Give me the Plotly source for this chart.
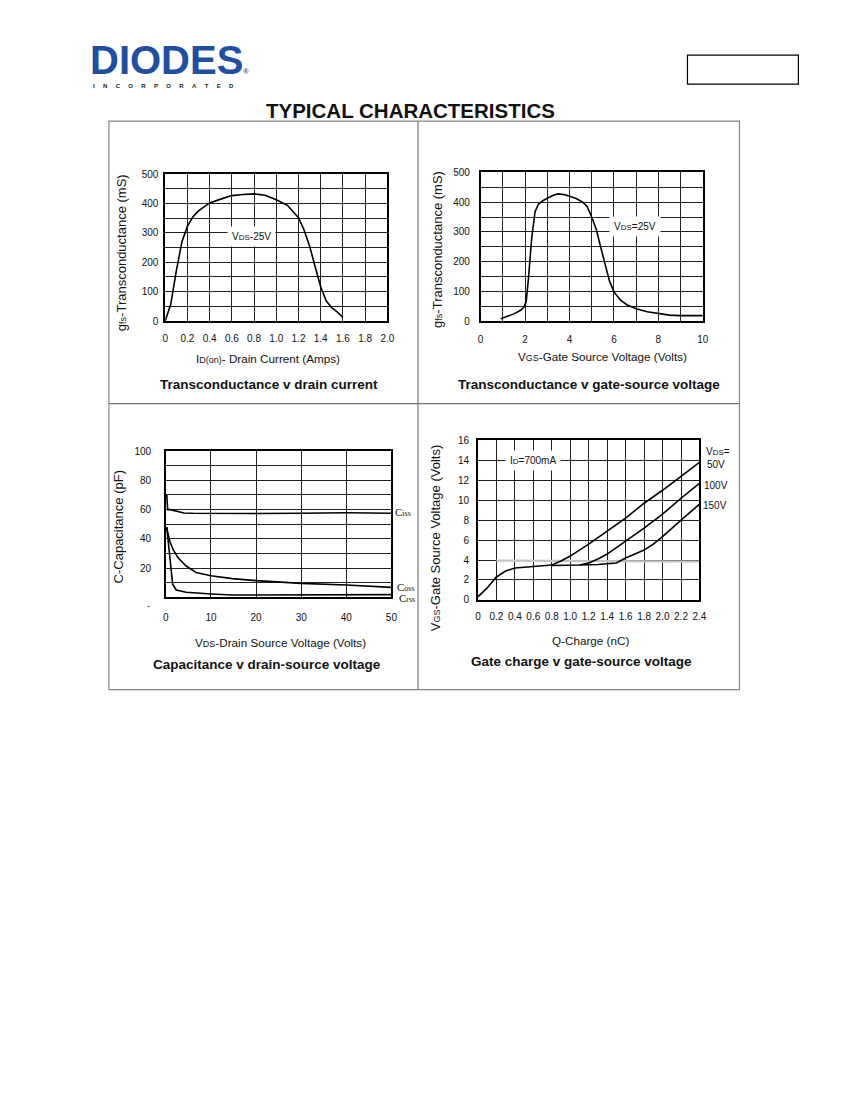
import plotly.graph_objects as go

W, H = 850, 1100

# transconductance v drain current
id_on = [0, 0.05, 0.1, 0.125, 0.15, 0.2, 0.25, 0.3, 0.35, 0.4, 0.5, 0.6, 0.7, 0.8,
         0.9, 1.0, 1.1, 1.2, 1.25, 1.3, 1.35, 1.4, 1.45, 1.5, 1.55, 1.6]
gfs_id = [0, 57, 170, 218, 269, 322, 355, 375, 390, 402, 415, 427, 431, 433,
          428, 413, 394, 352, 310, 255, 185, 116, 68, 45, 30, 12]

# transconductance v gate-source voltage
vgs = [0.9, 1.2, 1.5, 1.8, 1.95, 2.05, 2.15, 2.3, 2.45, 2.6, 2.8, 3.0, 3.3, 3.5, 3.8,
       4.0, 4.3, 4.6, 4.8, 5.0, 5.2, 5.4, 5.6, 5.8, 6.0, 6.3, 6.6, 7.0, 7.5, 8.0,
       8.5, 9.0, 9.5, 10.0]
gfs_vgs = [8, 16, 24, 36, 47, 65, 140, 280, 368, 393, 405, 413, 424, 428, 425,
           420, 412, 400, 385, 350, 310, 250, 190, 135, 98, 70, 54, 41, 31, 25,
           20, 18, 18, 18]

# capacitance v drain-source voltage
vds_ciss = [0.2, 0.4, 1, 2, 3, 4, 6, 10, 20, 30, 40, 50]
ciss = [70, 60, 60, 59.2, 58.3, 57.7, 57.5, 57.3, 57.3, 57.5, 57.8, 57.5]
vds_coss = [0.15, 0.9, 1.6, 2.7, 4.5, 6.7, 10, 14.7, 20, 25, 30, 40, 50]
coss = [48, 38, 32.7, 27, 21.4, 17, 14.7, 12.8, 11.4, 10.3, 9.5, 8.4, 6.8]
vds_crss = [0.2, 0.5, 1, 1.5, 2.3, 4.5, 10, 14.7, 20, 30, 40, 50]
crss = [48, 38, 22.6, 9, 5, 3.4, 2.3, 1.6, 1.6, 1.8, 2.0, 1.8]

# gate charge
qg_50 = [0, 0.1, 0.2, 0.3, 0.4, 0.6, 0.8, 0.9, 1.0, 1.2, 1.4, 1.6, 1.8, 2.0, 2.2, 2.4]
vg_50 = [0.3, 1.2, 2.3, 2.9, 3.2, 3.35, 3.5, 3.9, 4.4, 5.6, 6.9, 8.2, 9.7, 11.0, 12.4, 13.8]
qg_100 = [0.8, 1.0, 1.1, 1.2, 1.3, 1.4, 1.6, 1.8, 2.0, 2.2, 2.4]
vg_100 = [3.45, 3.45, 3.5, 3.7, 4.1, 4.6, 5.9, 7.2, 8.6, 10.2, 11.7]
qg_150 = [1.1, 1.3, 1.5, 1.6, 1.7, 1.8, 1.9, 2.0, 2.2, 2.4]
vg_150 = [3.5, 3.55, 3.7, 4.2, 4.6, 5.0, 5.6, 6.35, 8.0, 9.6]
qg_plateau = [0.2, 2.4]
vg_plateau = [3.95, 3.85]

FONT = "Liberation Sans, Arial, sans-serif"

# the photographed page comes out slightly shrunk and shifted; undo that here
SX, OX = 0.989, 2.0
SY, OY = 0.989, 6.0


def px(x):
    return (x - OX) / SX / W


def py(y):
    return 1 - (y - OY) / SY / H


def sm(t, size=8):
    return "<span style='font-size:%dpx'>%s</span>" % (size, t)


def xaxis(x0, x1, rng, tickvals, ticktext, minor, standoff):
    return dict(domain=[px(x0), px(x1)], range=rng, tickvals=tickvals, ticktext=ticktext,
                showgrid=True, gridcolor="#222", gridwidth=1,
                minor=dict(dtick=minor, tick0=0, showgrid=True, gridcolor="#222", gridwidth=1),
                showline=True, mirror=True, linecolor="black", linewidth=1.5,
                zeroline=False, ticks="", ticklabelstandoff=standoff,
                tickfont=dict(family=FONT, size=10, color="#111"), fixedrange=True)


def yaxis(y0, y1, rng, tickvals, minor, standoff):
    return dict(domain=[py(y1), py(y0)], range=rng, tickvals=tickvals,
                showgrid=True, gridcolor="#222", gridwidth=1,
                minor=dict(dtick=minor, tick0=0, showgrid=True, gridcolor="#222", gridwidth=1),
                showline=True, mirror=True, linecolor="black", linewidth=1.5,
                zeroline=False, ticks="", ticklabelstandoff=standoff,
                tickfont=dict(family=FONT, size=10, color="#111"), fixedrange=True)


fig = go.Figure()
line = dict(color="black", width=1.6)

fig.add_trace(go.Scatter(x=id_on, y=gfs_id, mode="lines", line=line, xaxis="x", yaxis="y"))
fig.add_trace(go.Scatter(x=vgs, y=gfs_vgs, mode="lines", line=line, xaxis="x2", yaxis="y2"))
fig.add_trace(go.Scatter(x=vds_ciss, y=ciss, mode="lines", line=line, xaxis="x3", yaxis="y3"))
fig.add_trace(go.Scatter(x=vds_coss, y=coss, mode="lines", line=line, xaxis="x3", yaxis="y3"))
fig.add_trace(go.Scatter(x=vds_crss, y=crss, mode="lines", line=line, xaxis="x3", yaxis="y3"))
fig.add_trace(go.Scatter(x=qg_plateau, y=vg_plateau, mode="lines",
                         line=dict(color="#c4c4c4", width=2.2), xaxis="x4", yaxis="y4"))
fig.add_trace(go.Scatter(x=qg_50, y=vg_50, mode="lines", line=line, xaxis="x4", yaxis="y4"))
fig.add_trace(go.Scatter(x=qg_100, y=vg_100, mode="lines", line=line, xaxis="x4", yaxis="y4"))
fig.add_trace(go.Scatter(x=qg_150, y=vg_150, mode="lines", line=line, xaxis="x4", yaxis="y4"))

t1 = [round(0.2 * i, 1) for i in range(11)]
t4 = [round(0.2 * i, 1) for i in range(13)]
lab = lambda v: "0" if v == 0 else "%.1f" % v

fig.update_layout(
    width=W, height=H, margin=dict(l=0, r=0, t=0, b=0),
    paper_bgcolor="white", plot_bgcolor="white", showlegend=False,
    font=dict(family=FONT, color="#111"),
    xaxis=xaxis(164.3, 386.7, [0, 2.0], t1, [lab(v) for v in t1], 0.2, 7),
    yaxis=yaxis(174, 320.7, [0, 500], [0, 100, 200, 300, 400, 500], 50, 3),
    xaxis2=xaxis(480, 702.3, [0, 10], [0, 2, 4, 6, 8, 10], None, 1, 8),
    yaxis2=yaxis(172.3, 320.7, [0, 500], [0, 100, 200, 300, 400, 500], 50, 7),
    xaxis3=xaxis(165, 390.7, [0, 50], [0, 10, 20, 30, 40, 50], None, 10, 10),
    yaxis3=yaxis(450.7, 596.7, [0, 100], [20, 40, 60, 80, 100], 10, 11),
    xaxis4=xaxis(477.3, 699, [0, 2.4], t4, [lab(v) for v in t4], 0.2, 6),
    yaxis4=yaxis(440, 599.3, [0, 16], [0, 2, 4, 6, 8, 10, 12, 14, 16], 2, 5),
)
for i in ["", "2", "3", "4"]:
    fig.layout["xaxis" + i].anchor = "y" + i
    fig.layout["yaxis" + i].anchor = "x" + i

# page frame and panel dividers
shapes = [
    dict(type="rect", x0=px(108), x1=px(739), y0=py(689), y1=py(121),
         line=dict(color="#888", width=1.2)),
    dict(type="line", x0=px(417.3), x1=px(417.3), y0=py(689), y1=py(121),
         line=dict(color="#777", width=1.2)),
    dict(type="line", x0=px(108), x1=px(739), y0=py(403.3), y1=py(403.3),
         line=dict(color="#777", width=1.2)),
    dict(type="rect", x0=px(687), x1=px(798), y0=py(84), y1=py(55),
         line=dict(color="black", width=1.2)),
]
for s in shapes:
    s.update(xref="paper", yref="paper", layer="above")
fig.update_layout(shapes=shapes)


def note(x, y, text, size=11, bold=False, angle=0, xanchor="center", color="#111",
         family=FONT, bg=None):
    if bold:
        text = "<b>%s</b>" % text
    a = dict(x=px(x), y=py(y), xref="paper", yref="paper", text=text, showarrow=False,
             xanchor=xanchor, yanchor="middle", textangle=angle,
             font=dict(family=family, size=size, color=color))
    if bg:
        a.update(bgcolor=bg, borderpad=4)
    fig.add_annotation(**a)


# header
note(87, 60, "DIODES" + sm("®", 7), size=40, bold=True, xanchor="left", color="#1f4f9e")
gap = "\u00a0" * 5
note(90, 86, gap.join("INCORPORATED"), size=6, bold=True, xanchor="left", color="#222")
note(410, 110, "TYPICAL CHARACTERISTICS", size=20.5, bold=True)

# axis titles
note(267, 358, "I" + sm("D(on)", 9) + "- Drain Current (Amps)", size=11.7)
note(120, 252, "g" + sm("fs", 9) + "-Transconductance (mS)", size=13, angle=-90)
note(602, 356, "V" + sm("GS", 9) + "-Gate Source Voltage (Volts)", size=11.7)
note(437, 249, "g" + sm("fs", 9) + "-Transconductance (mS)", size=13, angle=-90)
note(280, 642, "V" + sm("DS", 9) + "-Drain Source Voltage (Volts)", size=11.7)
note(118, 526, "C-Capacitance (pF)", size=13, angle=-90)
note(590, 640, "Q-Charge (nC)", size=11.7)
note(435, 538, "V" + sm("GS", 9) + "-Gate Source Voltage (Volts)", size=13, angle=-90)

# panel captions
note(268, 384, "Transconductance v drain current", size=13.5, bold=True)
note(588, 384, "Transconductance v gate-source voltage", size=13.5, bold=True)
note(266, 664, "Capacitance v drain-source voltage", size=13.5, bold=True)
note(581, 661, "Gate charge v gate-source voltage", size=13.5, bold=True)

# in-plot labels
note(251, 236, "V" + sm("DS") + "-25V", size=10, bg="white")
note(634, 226, "V" + sm("DS") + "=25V", size=10, bg="white")
note(532, 460, "I" + sm("D") + "=700mA", size=10, bg="white")
serif = "Liberation Serif, Times New Roman, serif"
note(392, 511, "C" + sm("iss", 8), size=11, xanchor="left", family=serif)
note(394, 586, "C" + sm("oss", 8), size=11, xanchor="left", family=serif)
note(396, 597, "C" + sm("rss", 8), size=11, xanchor="left", family=serif)
note(704, 451, "V" + sm("DS") + "=", size=10, xanchor="left")
note(705, 464, "50V", size=10, xanchor="left")
note(702, 485, "100V", size=10, xanchor="left")
note(701, 505, "150V", size=10, xanchor="left")
note(148, 605, "-", size=9)

fig.write_html("out.html", config={"displayModeBar": False},
               post_script="document.documentElement.style.overflow='hidden';"
                           "document.body.style.overflow='hidden';"
                           "document.body.style.margin='0';")
